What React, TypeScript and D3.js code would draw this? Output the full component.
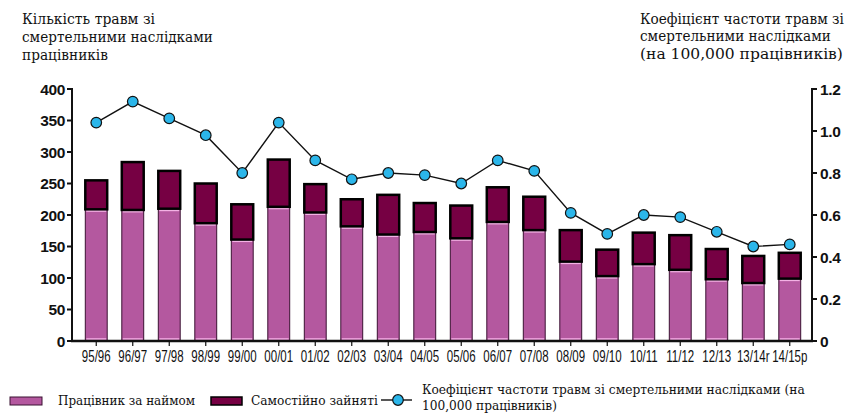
import React, { useLayoutEffect, useRef, useState } from 'react';
import * as d3 from 'd3';

const years = ['95/96', '96/97', '97/98', '98/99', '99/00', '00/01', '01/02', '02/03', '03/04', '04/05',
  '05/06', '06/07', '07/08', '08/09', '09/10', '10/11', '11/12', '12/13', '13/14r', '14/15p'];
const employees = [209, 208, 210, 187, 161, 213, 204, 182, 169, 173, 163, 189, 176, 126, 103, 122, 113, 98, 92, 99];
const selfEmployed = [46, 76, 60, 63, 56, 75, 45, 43, 63, 46, 52, 55, 53, 50, 42, 50, 55, 48, 43, 41];
const rates = [1.04, 1.14, 1.06, 0.98, 0.80, 1.04, 0.86, 0.77, 0.80, 0.79, 0.75, 0.86, 0.81, 0.61, 0.51, 0.60, 0.59, 0.52, 0.45, 0.46];

const leftTitle = ['Кількість травм зі', 'смертельними наслідками', 'працівників'];
const rightTitle = ['Коефіцієнт частоти травм зі', 'смертельними наслідками', '(на 100,000 працівників)'];
const legendNames = ['Працівник за наймом', 'Самостійно зайняті'];
const legendLine = ['Коефіцієнт частоти травм зі смертельними наслідками (на', '100,000 працівників)'];

const W = 851, H = 414;
const serif = "'DejaVu Serif', serif";
const sans = 'Liberation Sans, Arial, sans-serif';

const empColor = '#b4589f';
const selfColor = '#760043';
const dotColor = '#2bb6ea';

// serif text squeezed horizontally to the width it has in the picture
function SerifText({ x, y, size, len, children }: { x: number, y: number, size: number, len: number, children: string }) {
  const ref = useRef<SVGTextElement>(null);
  const [sx, setSx] = useState(0.8);
  useLayoutEffect(() => {
    if (ref.current) {
      const w = ref.current.getComputedTextLength();
      if (w > 0) setSx(len / w);
    }
  }, [len, children]);
  return (
    <text ref={ref} transform={`translate(${x},${y}) scale(${sx},1)`} style={{ fontFamily: serif }}
      fontSize={size} fill="#111">{children}</text>
  );
}

export default function App() {
  const axisL = 72, axisR = 812, base = 341, top = 89;

  const x = d3.scaleBand<string>()
    .domain(years)
    .range([78, 808])
    .paddingInner(0.4)
    .paddingOuter(0.2);
  const yL = d3.scaleLinear().domain([0, 400]).range([base, top]);
  const yR = d3.scaleLinear().domain([0, 1.2]).range([base, top]);

  const cx = (d: string) => (x(d) ?? 0) + x.bandwidth() / 2;
  const line = d3.line<number>()
    .x((_, i) => cx(years[i]))
    .y(d => yR(d));

  const fmtR = (d: number) => (d === 0 ? '0' : d3.format('.1f')(d));

  const leftLens = [133, 191, 86];
  const rightLens = [204, 191, 203];

  return (
    <svg width={W} height={H} style={{ position: 'absolute', left: 0, top: 0, background: '#fff' }}>
      {/* titles */}
      {leftTitle.map((t, i) => (
        <SerifText key={t} x={22} y={24 + i * 18} size={15} len={leftLens[i]}>{t}</SerifText>
      ))}
      {rightTitle.map((t, i) => (
        <SerifText key={t + i} x={640} y={23.5 + i * 17.5} size={15} len={rightLens[i]}>{t}</SerifText>
      ))}

      {/* bars */}
      {years.map((d, i) => {
        const bx = x(d) ?? 0;
        const bw = x.bandwidth();
        const eTop = yL(employees[i]);
        const sTop = yL(employees[i] + selfEmployed[i]);
        return (
          <g key={d}>
            <rect x={bx} y={eTop} width={bw} height={base - eTop} fill={empColor} stroke="#3a1232" strokeWidth={1} />
            <rect x={bx + 1} y={eTop + 0.5} width={bw - 2} height={2} fill="#f3b2e4" />
            <rect x={bx + 1} y={base - 3} width={bw - 2} height={2} fill="#e79ad6" />
            <rect x={bx} y={sTop} width={bw} height={eTop - sTop} fill={selfColor} stroke="#000" strokeWidth={2.5} />
          </g>
        );
      })}

      {/* rate line */}
      <path d={line(rates) ?? ''} fill="none" stroke="#111" strokeWidth={1.4} />
      {rates.map((r, i) => (
        <circle key={i} cx={cx(years[i])} cy={yR(r)} r={5.3} fill={dotColor} stroke="#111" strokeWidth={1.2} />
      ))}

      {/* left axis */}
      <line x1={axisL} x2={axisL} y1={top - 1} y2={base} stroke="#111" strokeWidth={2} />
      {yL.ticks(8).map(t => (
        <g key={t}>
          <line x1={axisL - 5} x2={axisL} y1={yL(t)} y2={yL(t)} stroke="#111" strokeWidth={2} />
          <text x={axisL - 7} y={yL(t)} dy="0.36em" textAnchor="end" fontFamily={sans} fontWeight="bold"
            fontSize={15.5} fill="#111" letterSpacing={-0.4}>{t}</text>
        </g>
      ))}

      {/* right axis */}
      <line x1={axisR} x2={axisR} y1={top - 1} y2={base} stroke="#111" strokeWidth={2} />
      {yR.ticks(6).map(t => (
        <g key={t}>
          <line x1={axisR} x2={axisR + 5} y1={yR(t)} y2={yR(t)} stroke="#111" strokeWidth={2} />
          <text x={axisR + 8} y={yR(t)} dy="0.36em" fontFamily={sans} fontWeight="bold"
            fontSize={15.5} fill="#111" letterSpacing={-0.4}>{fmtR(t)}</text>
        </g>
      ))}

      {/* bottom axis */}
      <line x1={axisL - 1} x2={axisR + 1} y1={base} y2={base} stroke="#111" strokeWidth={2.5} />
      {years.map(d => (
        <g key={d}>
          <line x1={cx(d)} x2={cx(d)} y1={base} y2={base + 5} stroke="#111" strokeWidth={1.2} />
          <text transform={`translate(${cx(d)},${362}) scale(0.72,1)`} textAnchor="middle"
            fontFamily={sans} fontSize={16} fill="#111">{d}</text>
        </g>
      ))}

      {/* legend */}
      <rect x={10} y={397} width={32} height={8} fill={empColor} stroke="#3a1232" strokeWidth={1} />
      <SerifText x={58} y={405} size={13.5} len={137}>{legendNames[0]}</SerifText>
      <rect x={211} y={397} width={31} height={8} fill={selfColor} stroke="#000" strokeWidth={1.5} />
      <SerifText x={251} y={405} size={13.5} len={127}>{legendNames[1]}</SerifText>
      <line x1={381} x2={412} y1={400} y2={400} stroke="#111" strokeWidth={1.4} />
      <circle cx={398} cy={400} r={5.3} fill={dotColor} stroke="#111" strokeWidth={1.2} />
      <SerifText x={422} y={394} size={13.5} len={383}>{legendLine[0]}</SerifText>
      <SerifText x={422} y={410} size={13.5} len={135}>{legendLine[1]}</SerifText>
    </svg>
  );
}
